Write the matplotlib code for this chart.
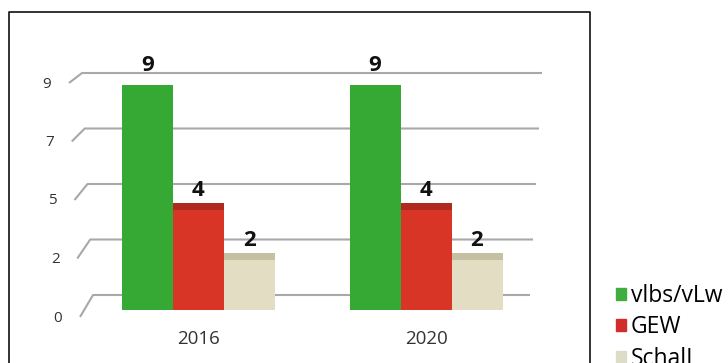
import matplotlib.pyplot as plt
import numpy as np
from matplotlib.lines import Line2D

plt.rcParams['font.family'] = ['Open Sans', 'DejaVu Sans']

years = ['2016', '2020']
series = ['vlbs/vLw', 'GEW', 'SchalL']
values = [[9, 9], [4, 4], [2, 2]]
tick_values = np.linspace(0, 9, 5)
tick_labels = ['0', '2', '5', '7', '9']

face_colors = ['#36a834', '#d83526', '#e3ddc3']
top_colors = ['#2f9a2d', '#b02a1e', '#c5c0a2']
legend_colors = ['#3fae3f', '#d12d2a', '#dcdcc8']

W, H = 728, 363
fig = plt.figure(figsize=(W / 100, H / 100), dpi=100)
fig.patch.set_facecolor('white')

# back wall with the gridlines (slightly smaller scale -> fake perspective)
wall = fig.add_axes([93 / W, 68 / H, 437 / W, 222 / H])
wall.set_xlim(0, 1)
wall.set_ylim(0, 9)
wall.axis('off')
span = 437.0
ppu = 222.0 / 9
for v, lab in zip(tick_values, tick_labels):
    left = -(11.0 / 9 * v) / span
    right = 1 + (12.0 / 9 * v) / span
    dy = (22 - 12.0 * v / 9) / ppu
    dx = 13.0 / span
    wall.plot([left - dx, left, right], [v - dy, v, v], color='#a8a8a8',
              lw=1.5, solid_capstyle='butt', clip_on=False)
    wall.text(left - dx - 22.0 / span, v - dy - 1.0 / ppu, lab,
              ha='center', va='center', fontsize=11, color='#333333')

# front bars
ax = fig.add_axes([84.75 / W, 53 / H, 455 / W, 225 / H])
ax.set_xlim(-0.5, 1.5)
ax.set_ylim(0, 9)
ax.axis('off')
ax.patch.set_alpha(0)

x = np.arange(len(years))
width = 51.0 / 227.5
cap = 7.0 / 25
handles = []
for i, (name, vals) in enumerate(zip(series, values)):
    pos = x + (i - 1) * width
    ax.bar(pos, vals, width=width, color=face_colors[i], linewidth=0)
    ax.bar(pos, cap, bottom=vals, width=width, color=top_colors[i], linewidth=0)
    for px, v in zip(pos, vals):
        ax.annotate(str(v), (px, v), xytext=(0, 14), textcoords='offset pixels',
                    ha='center', va='baseline', fontsize=16, fontweight='bold',
                    color='#111111', annotation_clip=False)
    handles.append(plt.Rectangle((0, 0), 1, 1, color=legend_colors[i]))

for xi, yr in zip(x, years):
    ax.annotate(yr, (xi, 0), xytext=(0, -29), textcoords='offset pixels',
                ha='center', va='center', fontsize=13.5, color='#333333',
                annotation_clip=False)

fig.legend(handles, series, loc='upper left', bbox_to_anchor=(616 / W, 1 - 284 / H),
           frameon=False, fontsize=16.5, handlelength=0.45, handleheight=0.4,
           handletextpad=0.2, labelspacing=0.32, borderpad=0, borderaxespad=0)

# outer frame, open at the bottom
fig.add_artist(Line2D([9 / W, 9 / W, 590 / W, 590 / W], [-0.1, 1 - 12 / H, 1 - 12 / H, -0.1],
                      transform=fig.transFigure, color='#111111', lw=1.2))

fig.savefig('out.png', dpi=100)
